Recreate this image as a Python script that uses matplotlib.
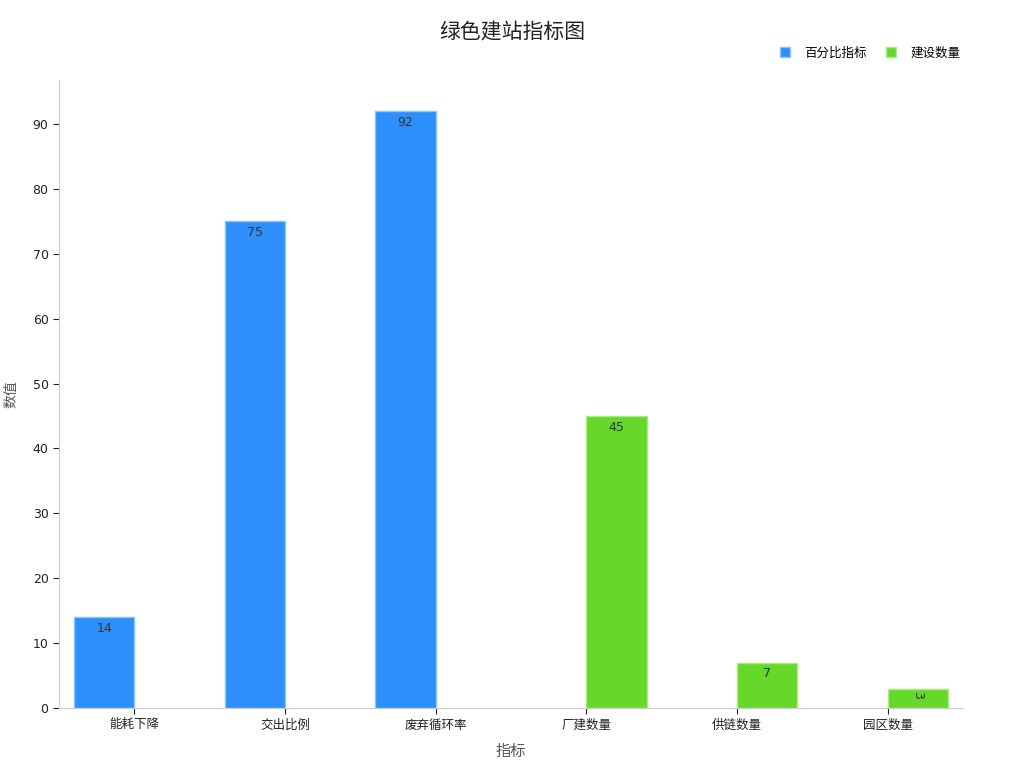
import numpy as np
import matplotlib
matplotlib.use("Agg")
from matplotlib import pyplot as plt

plt.rcParams['font.family'] = ['DejaVu Sans', 'Noto Sans CJK SC']

categories = ["能耗下降", "交出比例", "废弃循环率", "厂建数量", "供链数量", "园区数量"]
pct_values = [14, 75, 92, None, None, None]
build_values = [None, None, None, 45, 7, 3]
series_names = ["百分比指标", "建设数量"]
colors = ["#2d8ffa", "#65d829"]
edges = ["#8cc4ff", "#a6ee80"]

fig = plt.figure(figsize=(10.24, 7.68), dpi=100)
ax = fig.add_axes([59/1024, 60/768, 904/1024, 628/768])

x = np.arange(len(categories))
w = 0.4
for k, vals in enumerate([pct_values, build_values]):
    off = -w/2 if k == 0 else w/2
    xs = [x[i] + off for i, v in enumerate(vals) if v is not None]
    ys = [v for v in vals if v is not None]
    bars = ax.bar(xs, ys, width=w, color=colors[k], edgecolor=edges[k],
                  linewidth=1, label=series_names[k], zorder=2)
    for b, v in zip(bars, ys):
        cx = b.get_x() + b.get_width()/2
        if v < 5:
            ax.text(cx, v - 0.4, str(v), ha='center', va='top', rotation=-90,
                    fontsize=9, color='#333333')
        else:
            ax.text(cx, v - 0.7, str(v), ha='center', va='top',
                    fontsize=9, color='#333333')

ax.set_xlim(-0.5, 5.5)
ax.set_ylim(0, 96.8)
ax.set_xticks(x)
ax.set_xticklabels(categories, fontsize=9, color='#222222')
ax.set_yticks(range(0, 100, 10))
ax.tick_params(axis='y', labelsize=9, colors='#222222', length=4)
ax.tick_params(axis='x', length=4, colors='#222222')
for s in ['top', 'right']:
    ax.spines[s].set_visible(False)
for s in ['left', 'bottom']:
    ax.spines[s].set_color('#cccccc')

ax.set_xlabel("指标", fontsize=11, color='#555555', labelpad=9)
ax.set_ylabel("数值", fontsize=10, color='#555555')
ax.yaxis.set_label_coords(-41/904, 0.5)
fig.text(0.5, 1 - 32/768, "绿色建站指标图", ha='center', va='center',
         fontsize=15, color='#222222')

fig.legend(loc='center right', bbox_to_anchor=(972/1024, 1 - 53/768), ncol=2,
           frameon=False, fontsize=9, handlelength=0.8, handleheight=0.8,
           columnspacing=1.5, handletextpad=1.2)

fig.savefig("out.png", dpi=100)
